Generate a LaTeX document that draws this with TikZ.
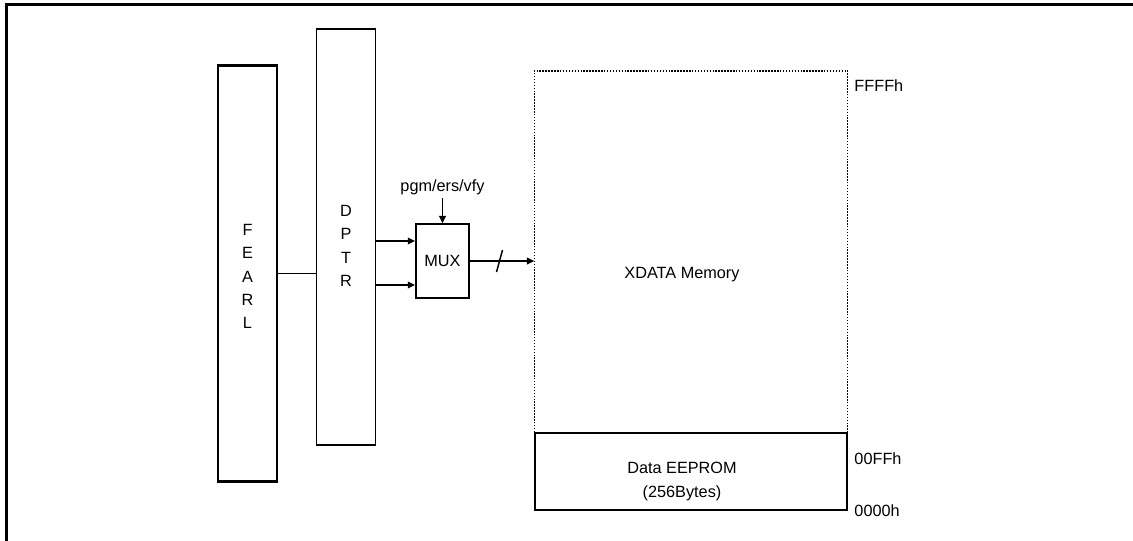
\documentclass[tikz,border=0pt]{standalone}
\usepackage{fontspec}
\setmainfont{Liberation Sans}
\usetikzlibrary{arrows.meta,positioning,calc}

\begin{document}
\begin{tikzpicture}[x=0.75pt, y=-0.75pt,
  font=\fontsize{12.2}{17.5}\selectfont, line width=1.1pt,
  reg/.style ={draw, minimum width=44pt, inner sep=0pt},
  mux/.style ={draw, minimum width=40pt, minimum height=55.5pt, inner sep=0pt},
  mem/.style ={minimum width=234pt, inner sep=0pt},
  txt/.style ={align=center, inner sep=0pt},
  adr/.style ={anchor=west, inner sep=0pt},
  fl/.style  ={-{Triangle[length=5.5pt,width=5pt]}},
  dots/.style={line width=1.1pt, dash pattern=on 1.1pt off 1.1pt}]

\useasboundingbox (0,0) rectangle (1133,540);
\draw[line width=1.6pt] (6.5,560) |- (1150,4.5);

% registers
\node[reg, minimum height=311pt] (fearl) at (247.5,273.5) {};
\draw[line width=2pt] (fearl.north west) -- (fearl.north east)
  (fearl.south west) -- (fearl.south east);
\node[txt] (fearltxt) at (247.5,276.5) {F\\E\\A\\R\\L};
\node[reg, minimum height=312pt] (dptr) at (346,237) {};
\node[txt] (dptrtxt) at (346,246) {D\\P\\T\\R};

% address path
\node[mux] (mux) at (442.5,261) {MUX};
\node[txt, inner sep=2pt, above=19pt of mux.north, anchor=south]
  (ctl) {pgm/ers/vfy};
\coordinate (in1) at ($(mux.west)+(0,-20)$);
\coordinate (in2) at ($(mux.west)+(0,24)$);

% memory map
\node[mem, draw, minimum height=57.75pt] (eep) at (691,471.5) {};
\node[mem, minimum height=270pt, above=0pt of eep] (xdata) {};
\draw[dots] (xdata.south west) |- (xdata.north east) -- (xdata.south east);
\node[txt] (xdatatxt) at (682,275) {XDATA Memory};
\node[txt] (eeptxt) at (682,481.5) {Data EEPROM\\(256Bytes)};
\node[adr] (ffff) at ($(xdata.north east)+(6,15)$) {FFFFh};
\node[adr] (a00ff) at ($(eep.north east)+(6,26)$) {00FFh};
\node[adr] (a0000) at ($(eep.south east)+(6,0)$) {0000h};

\draw (fearl) -- (fearl -| dptr.west);
\foreach \c in {in1,in2}
  \draw[fl] (dptr.east |- \c) -- (\c);
\draw[fl] (ctl) -- (ctl |- mux.north);
\draw[fl] (mux.east) -- coordinate[pos=0.46] (bus) (mux.east -| xdata.west);
\draw ($(bus)+(-3,11)$) -- ($(bus)+(3,-11)$);
\end{tikzpicture}
\end{document}
